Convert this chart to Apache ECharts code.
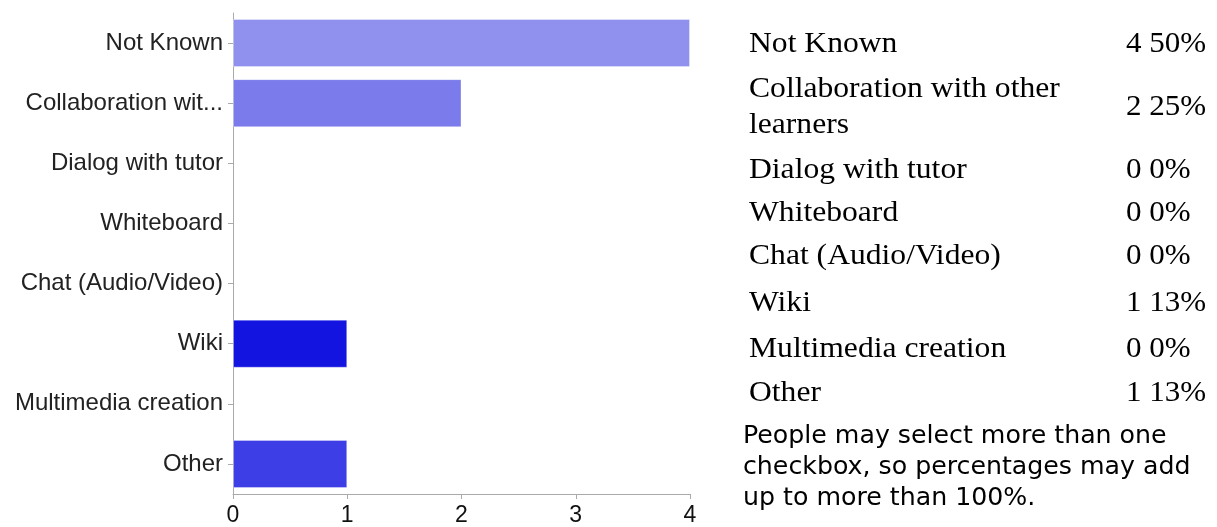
<!DOCTYPE html>
<html>
<head>
<meta charset="utf-8">
<script src="https://cdn.jsdelivr.net/npm/echarts@6/dist/echarts.min.js"></script>
<style>
  html, body { margin: 0; padding: 0; background: #fff; }
  #vis { width: 1217px; height: 527px; }
</style>
</head>
<body>
<div id="vis"></div>
<script>
const categories = ['Not Known', 'Collaboration with other learners', 'Dialog with tutor', 'Whiteboard',
  'Chat (Audio/Video)', 'Wiki', 'Multimedia creation', 'Other']
const counts = [4, 2, 0, 0, 0, 1, 0, 1]
const percents = ['50%', '25%', '0%', '0%', '0%', '13%', '0%', '13%']
const barColors = ['#9090ee', '#7b7bec', '#8080ee', '#8080ee', '#8080ee', '#1414e0', '#8080ee', '#3e3ee6']
const xTicks = [0, 1, 2, 3, 4]
const note = 'People may select more than one\ncheckbox, so percentages may add\nup to more than 100%.'

// table layout on the right
const rowCenters = [44, 107, 170, 213, 256, 303, 349, 393]
const tableFont = '29px "Liberation Serif", "Times New Roman", serif'

const chart = echarts.init(document.getElementById('vis'), null, { renderer: 'canvas' })

const tableGraphics = []
categories.forEach((name, i) => {
  tableGraphics.push({
    type: 'text',
    x: 749,
    y: rowCenters[i] - (i === 1 ? 36 : 18),
    scaleX: 1.09,
    style: {
      text: i === 1 ? 'Collaboration with other\nlearners' : name,
      font: tableFont,
      fill: '#000',
      lineHeight: 36
    }
  })
  tableGraphics.push({
    type: 'text',
    x: 1126,
    y: rowCenters[i] - 18,
    scaleX: 1.07,
    style: {
      text: counts[i] + ' ' + percents[i],
      font: tableFont,
      fill: '#000',
      lineHeight: 36
    }
  })
})
tableGraphics.push({
  type: 'text',
  x: 743,
  y: 421,
  scaleX: 1.03,
  style: {
    text: note,
    font: '24.5px "DejaVu Sans", Verdana, sans-serif',
    fill: '#000',
    lineHeight: 31
  }
})

chart.setOption({
  animation: false,
  backgroundColor: '#fff',
  grid: { left: 233, right: 527, top: 13, bottom: 30 },
  xAxis: {
    type: 'value',
    min: xTicks[0],
    max: xTicks[xTicks.length - 1],
    interval: 1,
    splitLine: { show: false },
    axisLine: { show: true, lineStyle: { color: '#aaa', width: 1 } },
    axisTick: { show: true, length: 5, lineStyle: { color: '#aaa' } },
    axisLabel: {
      margin: 10,
      color: '#111',
      fontSize: 23,
      fontFamily: '"Liberation Sans", Arial, sans-serif'
    }
  },
  yAxis: {
    type: 'category',
    inverse: true,
    data: categories,
    axisLine: { show: true, lineStyle: { color: '#aaa', width: 1 } },
    axisTick: { show: true, length: 5, alignWithLabel: true, lineStyle: { color: '#aaa' } },
    axisLabel: {
      margin: 10,
      color: '#222',
      fontSize: 24,
      fontFamily: '"Liberation Sans", Arial, sans-serif',
      formatter: (name) => name.length > 20 ? name.slice(0, 17) + '...' : name
    }
  },
  series: [{
    type: 'bar',
    barCategoryGap: '20%',
    data: counts.map((v, i) => ({
      value: v,
      itemStyle: {
        color: barColors[i],
        borderColor: 'rgba(255,255,255,0.35)',
        borderWidth: v > 0 ? 1 : 0
      }
    }))
  }],
  graphic: tableGraphics
})

window.addEventListener('resize', () => chart.resize())
</script>
</body>
</html>
